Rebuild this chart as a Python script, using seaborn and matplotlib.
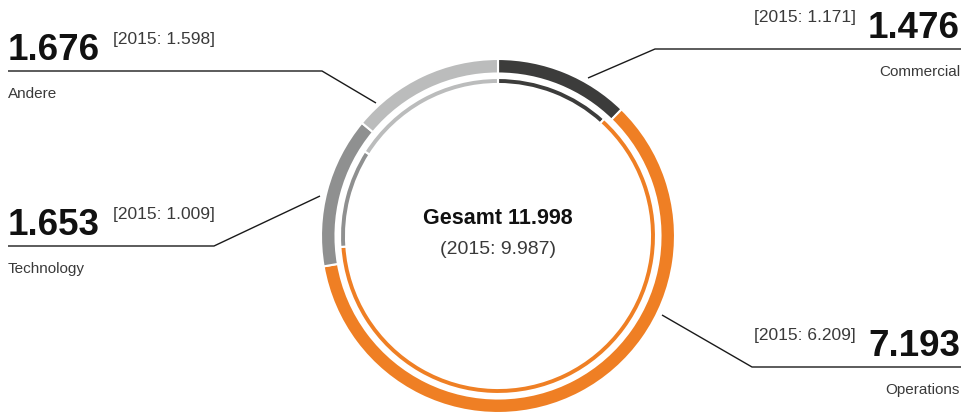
import numpy as np
import matplotlib.pyplot as plt
import seaborn as sns

# Umsatz nach Segment (2016 aussen, 2015 innen)
segments = ['Commercial', 'Operations', 'Technology', 'Andere']
values_2016 = [1.476, 7.193, 1.653, 1.676]
values_2015 = [1.171, 6.209, 1.009, 1.598]
labels_2016 = ['1.476', '7.193', '1.653', '1.676']
labels_2015 = ['[2015: 1.171]', '[2015: 6.209]', '[2015: 1.009]', '[2015: 1.598]']
total_label = 'Gesamt 11.998'
total_2015_label = '(2015: 9.987)'

colors = sns.color_palette(['#3c3c3b', '#ef7f24', '#8f9090', '#bbbcbc'])

W, H = 962, 412
sns.set_style('white')
plt.rcParams['font.family'] = ['Liberation Sans', 'DejaVu Sans']


def fy(y):
    # pixel row -> data y
    return H - y


fig = plt.figure(figsize=(W / 100, H / 100), dpi=100)
ax = fig.add_axes([0, 0, 1, 1])

cx, cy = 498, fy(236)
ax.pie(values_2016, colors=colors, radius=177, center=(cx, cy), startangle=90,
       counterclock=False, wedgeprops=dict(width=14.5, edgecolor='white', linewidth=1.5))
ax.pie(values_2015, colors=colors, radius=158, center=(cx, cy), startangle=90,
       counterclock=False, wedgeprops=dict(width=6, edgecolor='white', linewidth=1.5))
ax.set_xlim(0, W)
ax.set_ylim(0, H)
ax.axis('off')

# Mitte
ax.text(cx, fy(218), total_label, ha='center', va='center', fontsize=15.5,
        fontweight='bold', color='#111111')
ax.text(cx, fy(250), total_2015_label, ha='center', va='center', fontsize=14,
        color='#3a3a3a')

# Beschriftungen mit Fuehrungslinien
layout = {
    'Commercial': dict(side='right', line_y=49, path=[(588, 78), (655, 49), (962, 49)]),
    'Operations': dict(side='right', line_y=367, path=[(662, 315), (752, 367), (962, 367)]),
    'Technology': dict(side='left', line_y=246, path=[(320, 196), (214, 246), (8, 246)]),
    'Andere': dict(side='left', line_y=71, path=[(376, 103), (322, 71), (8, 71)]),
}

for seg, num, prev in zip(segments, labels_2016, labels_2015):
    lay = layout[seg]
    px = [p[0] for p in lay['path']]
    py = [fy(p[1]) for p in lay['path']]
    ax.plot(px, py, color='#1a1a1a', lw=1.0, solid_capstyle='butt')
    ly = lay['line_y']
    if lay['side'] == 'right':
        ax.text(960, fy(ly - 11), num, ha='right', va='baseline', fontsize=26.5,
                fontweight='bold', color='#111111')
        ax.text(856, fy(ly - 27), prev, ha='right', va='baseline', fontsize=12.5,
                color='#3a3a3a')
        ax.text(960, fy(ly + 27), seg, ha='right', va='baseline', fontsize=11,
                color='#3a3a3a')
    else:
        ax.text(8, fy(ly - 11), num, ha='left', va='baseline', fontsize=26.5,
                fontweight='bold', color='#111111')
        ax.text(113, fy(ly - 27), prev, ha='left', va='baseline', fontsize=12.5,
                color='#3a3a3a')
        ax.text(8, fy(ly + 27), seg, ha='left', va='baseline', fontsize=11,
                color='#3a3a3a')

fig.savefig('out.png', dpi=100, facecolor='white')
